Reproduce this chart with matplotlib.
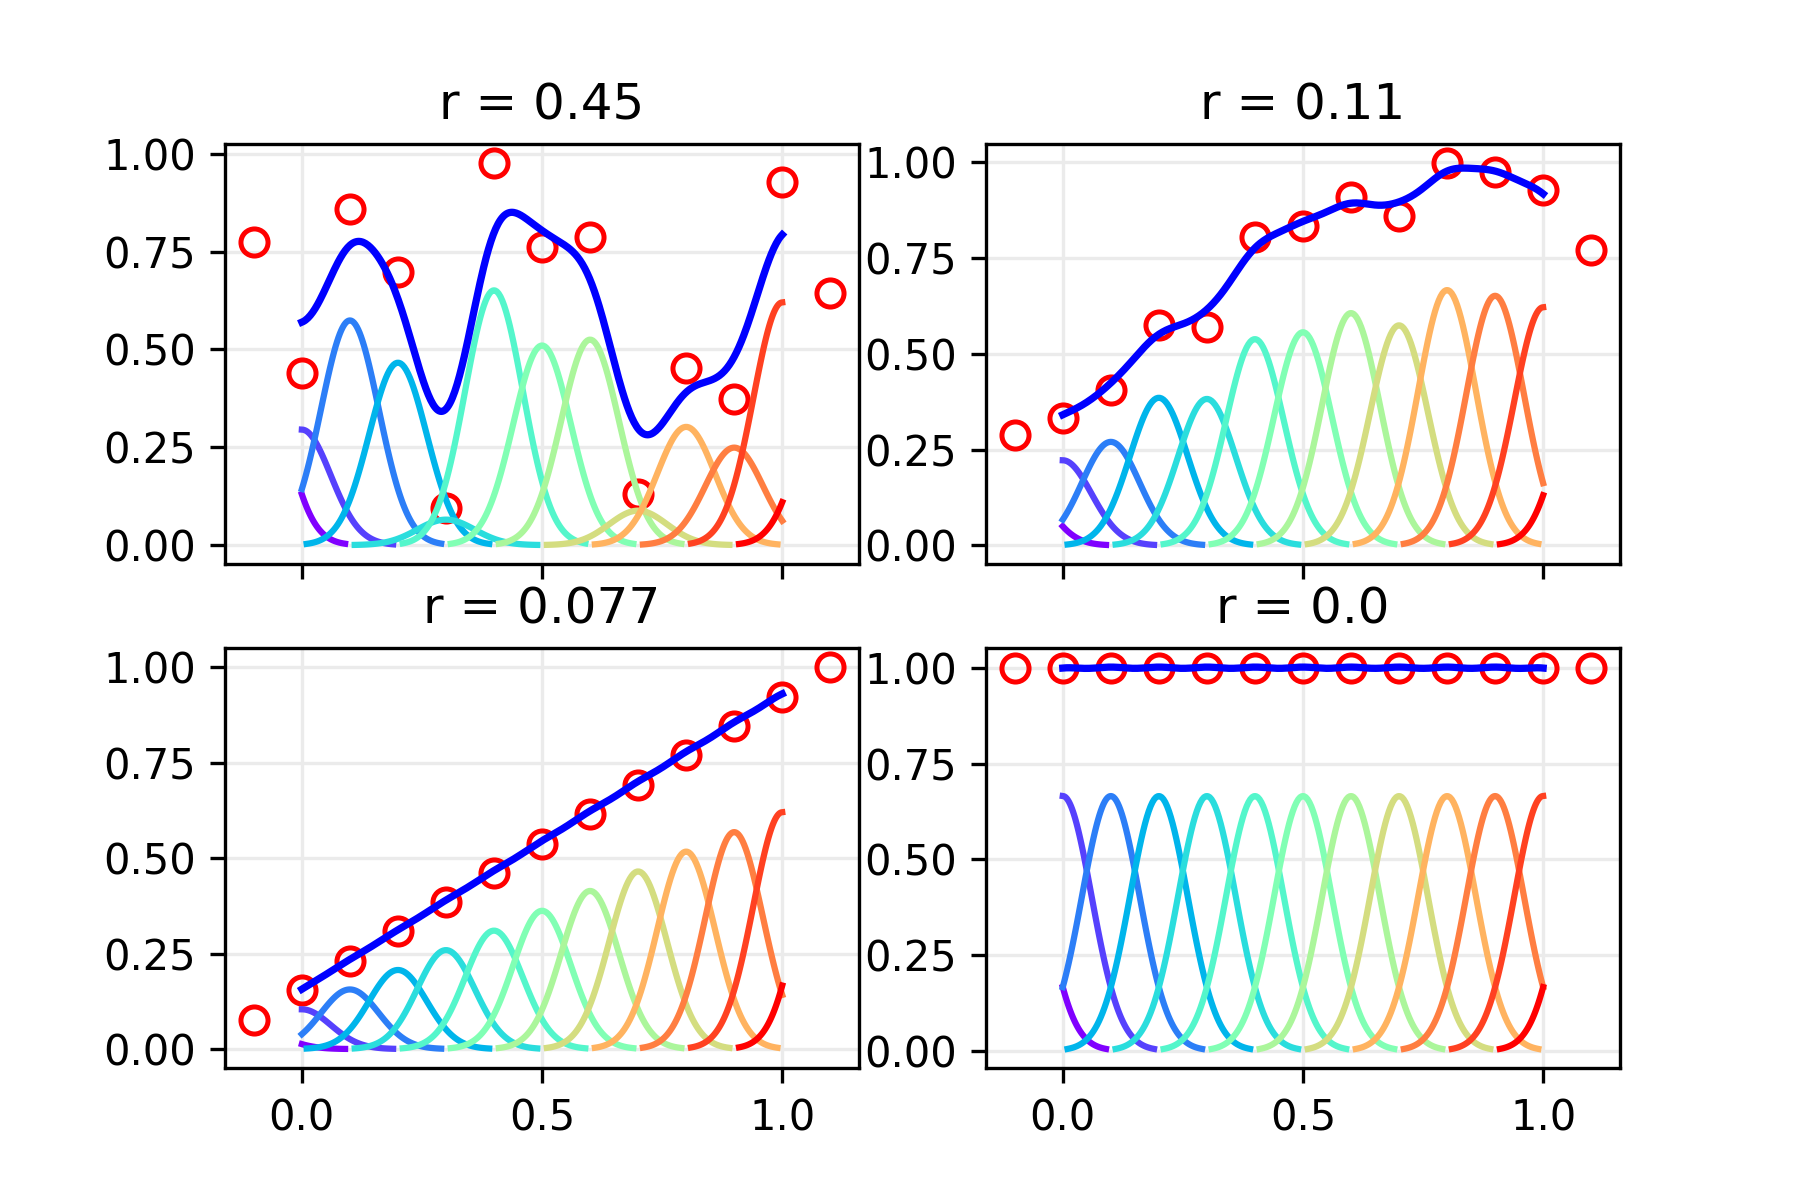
import numpy as np
from matplotlib import pyplot as plt

# sample positions (also the kernel centres)
x_samples = [-0.1, 0.0, 0.1, 0.2, 0.3, 0.4, 0.5, 0.6, 0.7, 0.8, 0.9, 1.0, 1.1]

titles = ['r = 0.45', 'r = 0.11', 'r = 0.077', 'r = 0.0']

# sample values
y_045 = [0.774, 0.440, 0.859, 0.698, 0.096, 0.976, 0.762, 0.787, 0.130,
         0.452, 0.372, 0.928, 0.644]
y_011 = [0.289, 0.332, 0.404, 0.575, 0.570, 0.805, 0.832, 0.909, 0.858,
         0.997, 0.974, 0.928, 0.770]
y_0077 = [0.077, 0.154, 0.231, 0.308, 0.385, 0.462, 0.538, 0.615, 0.692,
          0.769, 0.846, 0.923, 1.000]
y_000 = [1.0, 1.0, 1.0, 1.0, 1.0, 1.0, 1.0, 1.0, 1.0, 1.0, 1.0, 1.0, 1.0]

# peak height of every gaussian bump
w_045 = [0.520, 0.295, 0.574, 0.466, 0.065, 0.651, 0.510, 0.525, 0.088,
         0.302, 0.249, 0.620, 0.440]
w_011 = [0.200, 0.222, 0.270, 0.385, 0.382, 0.538, 0.556, 0.606, 0.574,
         0.666, 0.651, 0.621, 0.525]
w_0077 = [0.052, 0.104, 0.156, 0.207, 0.259, 0.310, 0.362, 0.414, 0.465,
          0.517, 0.568, 0.620, 0.667]
w_000 = [0.666, 0.666, 0.666, 0.666, 0.666, 0.666, 0.666, 0.666, 0.666,
         0.666, 0.666, 0.666, 0.666]

sigma = 0.06
half_span = 0.19  # each bump is only drawn near its centre

panels = [(y_045, w_045), (y_011, w_011), (y_0077, w_0077), (y_000, w_000)]


def bump(x, c, w):
    return w * np.exp(-(x - c) ** 2 / (2 * sigma ** 2))


colors = plt.cm.rainbow(np.linspace(0, 1, len(x_samples)))

fig, axes = plt.subplots(2, 2, sharex=True, figsize=(6, 4), dpi=300)
x_fit = np.linspace(0, 1, 400)

for ax, title, (ys, ws) in zip(axes.ravel(), titles, panels):
    ax.grid(color='#ebebeb', linewidth=0.8)
    ax.set_axisbelow(True)
    ax.plot(x_samples, ys, 'o', color='red', mfc='none', ms=6.5, mew=1.2)
    total = np.zeros_like(x_fit)
    for c, w, col in zip(x_samples, ws, colors):
        x_seg = np.linspace(max(c - half_span, 0), min(c + half_span, 1), 100)
        if x_seg[-1] > x_seg[0]:
            ax.plot(x_seg, bump(x_seg, c, w), color=col, lw=1.5)
        total += bump(x_fit, c, w)
    ax.plot(x_fit, total, color='blue', lw=1.75)
    ax.set_yticks([0, 0.25, 0.5, 0.75, 1.0])
    ax.set_title(title)

axes[1, 0].set_xticks([0, 0.5, 1.0])
fig.savefig('out.png', dpi=300)
